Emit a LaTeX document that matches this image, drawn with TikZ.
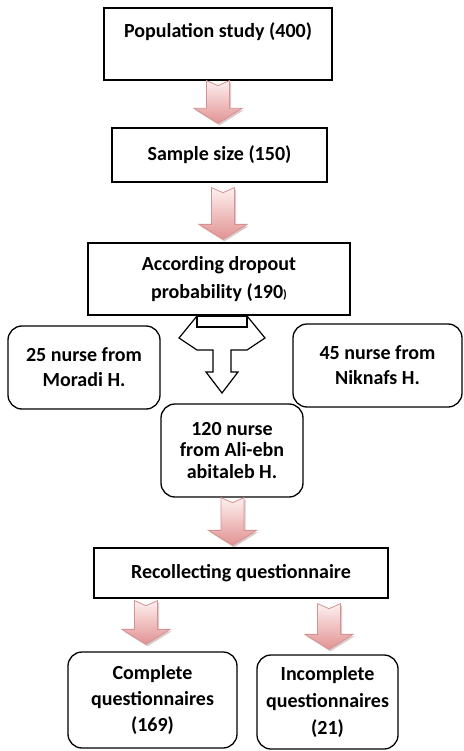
\documentclass[tikz,border=0pt]{standalone}
\usepackage{fontspec}
\setmainfont{Carlito}
\usetikzlibrary{calc}
\definecolor{pinkedge}{RGB}{214,146,146}
\definecolor{pinktop}{RGB}{254,240,240}
\definecolor{pinkbot}{RGB}{226,146,146}
\definecolor{pinkshadow}{RGB}{150,105,105}
\tikzset{
  sqbox/.style={draw=black, line width=1.3pt, fill=white, inner sep=0pt,
    font=\bfseries\fontsize{20}{25}\selectfont, align=center, text=black},
  rbox/.style={sqbox, rounded corners=14pt},
  lbl/.style={font=\bfseries\fontsize{20}{25}\selectfont, align=center, text=black, inner sep=0pt},
  arrbody/.style={draw=pinkedge, line width=0.8pt, top color=pinktop, bottom color=pinkbot, line join=miter},
  arrshadow/.style={fill=pinkshadow, fill opacity=0.35},
  tarrow/.style={draw=black, line width=1.2pt, fill=white, line join=miter},
}
% #1 x (px), #2 top anchor, #3 top gap, #4 tip anchor, #5 tip gap
\newcommand\blockarrow[5]{%
  \foreach \dx/\dy/\sty in {1.5/2/arrshadow,0/0/arrbody}{%
    \path[\sty] let \p1=(#2), \p2=(#4) in
      (#1pt+\dx pt-11.5pt, \y1-#3pt-\dy pt)
      -- (#1pt+\dx pt, \y1-#3pt-\dy pt-5pt)
      -- (#1pt+\dx pt+11.5pt, \y1-#3pt-\dy pt)
      -- (#1pt+\dx pt+11.5pt, \y2+#5pt-\dy pt+15pt)
      -- (#1pt+\dx pt+24pt, \y2+#5pt-\dy pt+15pt)
      -- (#1pt+\dx pt, \y2+#5pt-\dy pt)
      -- (#1pt+\dx pt-24pt, \y2+#5pt-\dy pt+15pt)
      -- (#1pt+\dx pt-11.5pt, \y2+#5pt-\dy pt+15pt)
      -- cycle;
  }%
}
\begin{document}
\begin{tikzpicture}[x=1pt,y=-1pt]
\useasboundingbox (0,0) rectangle (463,751);
\fill[white] (0,0) rectangle (463,751);

% T-shaped split arrow
\draw[tarrow] (197,316) -- (179,338) -- (197,350) -- (213,350) -- (213,372) -- (206,372)
  -- (222,393) -- (238,372) -- (231,372) -- (231,350) -- (247,350) -- (265,338) -- (247,316) -- cycle;
\draw[tarrow] (197,316) rectangle (247,327);

% boxes
\node[sqbox, minimum width=228, minimum height=72] (b1) at (218,44) {};
\node[lbl] (t1) at (218,32) {Population study (400)};
\node[sqbox, minimum width=215, minimum height=54] (b2) at (219.5,155) {Sample size (150)};
\node[sqbox, minimum width=262, minimum height=72, font=\bfseries\fontsize{20}{28}\selectfont] (b3) at (219,279)
  {According dropout\\probability (190{\fontsize{12}{12}\selectfont)}};
\node[rbox, minimum width=152, minimum height=83] (bl) at (84,367.5) {25 nurse from\\Moradi H.};
\node[rbox, minimum width=169, minimum height=83] (br) at (377.5,365.5) {45 nurse from\\Niknafs H.};
\node[rbox, minimum width=142, minimum height=93, font=\bfseries\fontsize{20}{21.5}\selectfont] (bm) at (232,450.5)
  {120 nurse\\from Ali-ebn\\abitaleb H.};
\node[sqbox, minimum width=294, minimum height=50] (b5) at (241,573) {Recollecting questionnaire};
\node[rbox, minimum width=169, minimum height=96, font=\bfseries\fontsize{20}{26}\selectfont] (b6) at (152.5,700)
  {Complete\\questionnaires\\(169)};
\node[rbox, minimum width=141, minimum height=94, font=\bfseries\fontsize{20}{27}\selectfont] (b7) at (327.5,702)
  {Incomplete\\questionnaires\\(21)};

% pink block arrows
\blockarrow{218}{b1.south}{0}{b2.north}{4}
\blockarrow{223}{b2.south}{5}{b3.north}{3}
\blockarrow{232.5}{bm.south}{0}{b5.north}{2}
\blockarrow{146}{b5.south}{2}{b6.north}{7}
\blockarrow{329}{b5.south}{5}{b7.north}{5}
\end{tikzpicture}
\end{document}
